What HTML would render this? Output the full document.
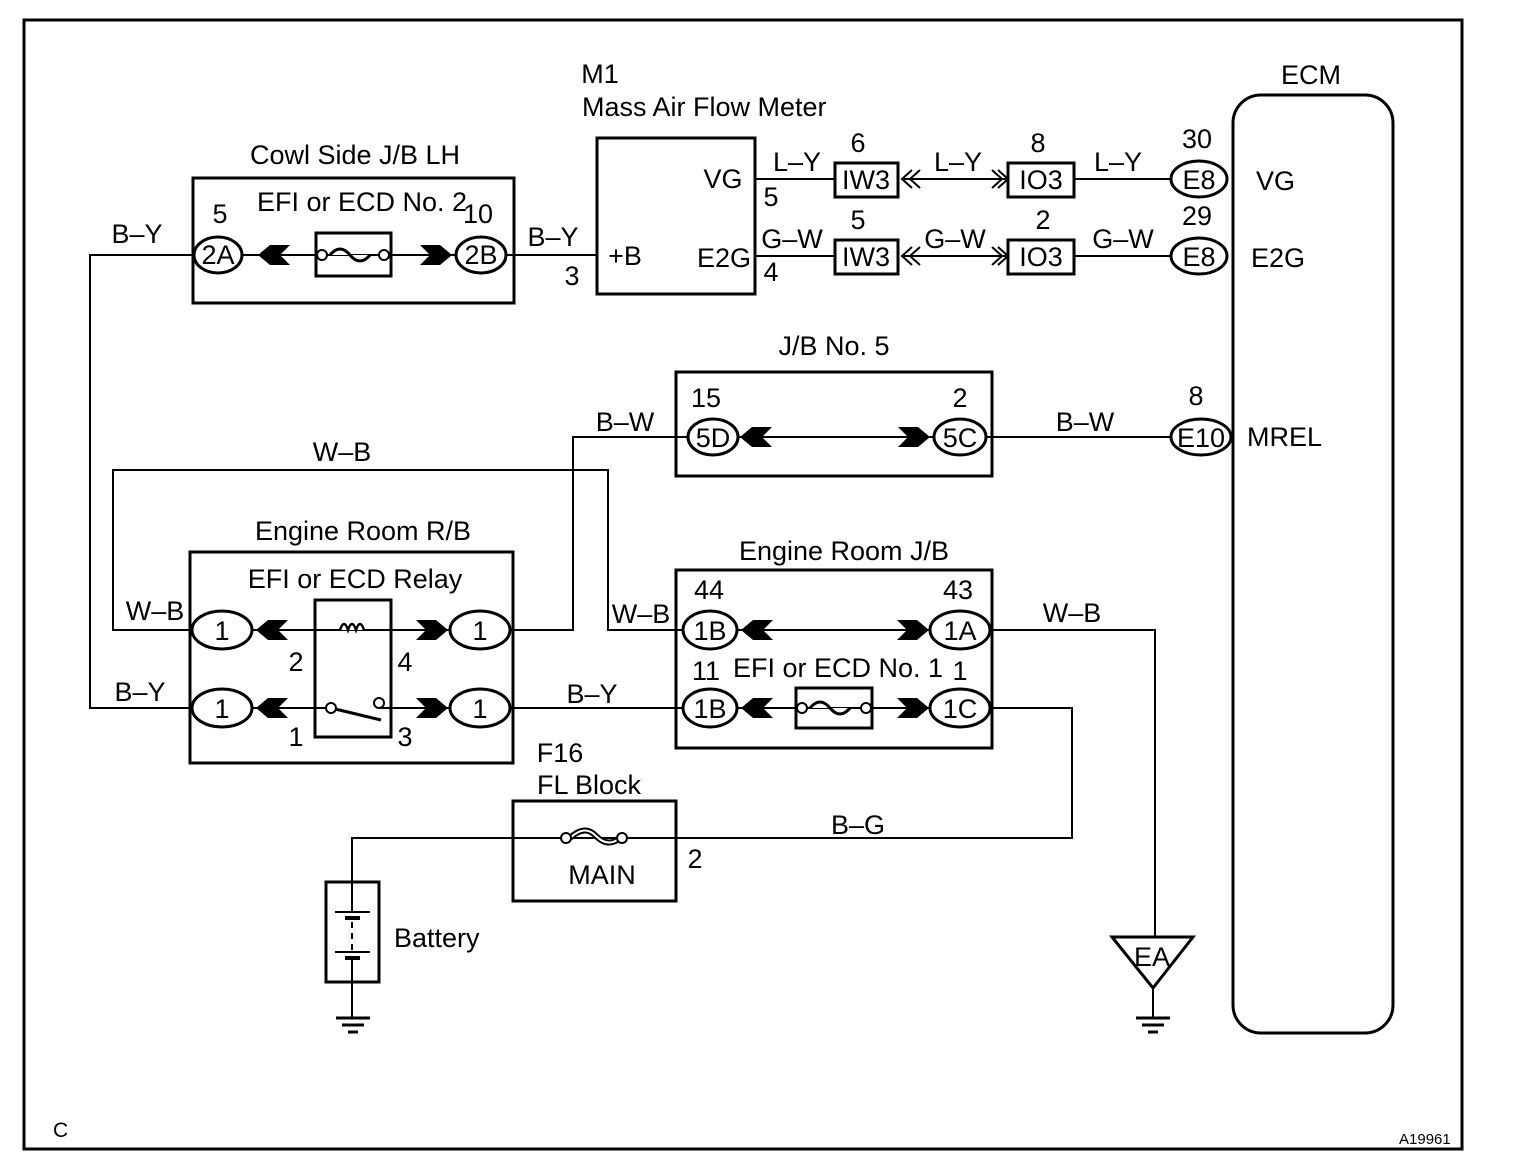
<!DOCTYPE html><html><head><style>body{margin:0;background:#fff}svg{display:block}text{font-family:"Liberation Sans",Arial,sans-serif;font-size:27px;fill:#000}</style></head><body>
<svg width="1520" height="1166" viewBox="0 0 1520 1166" xmlns="http://www.w3.org/2000/svg">
<defs>
<g id="cl"><polygon points="0,0 12,-10 32,-10 22,0 32,10 12,10"/></g>
<g id="cr"><polygon points="0,-10 20,-10 32,0 20,10 0,10 10,0"/></g>
</defs>
<rect x="24" y="20" width="1438" height="1129" fill="none" stroke="#000" stroke-width="3"/>
<g fill="#fff" stroke="#000" stroke-width="3">
<rect x="193" y="178" width="321" height="125"/>
<rect x="597" y="138" width="158" height="156"/>
<rect x="676" y="372" width="316" height="104"/>
<rect x="190" y="552" width="323" height="211"/>
<rect x="676" y="570" width="316" height="178"/>
<rect x="513" y="801" width="163" height="100"/>
<rect x="326" y="882" width="53" height="100"/>
<rect x="1233" y="95" width="160" height="938" rx="28"/>
</g>
<g fill="none" stroke="#000" stroke-width="2">
<polyline points="195,255 90,255 90,708 192,708"/>
<line x1="242" y1="255" x2="456" y2="255"/>
<line x1="506" y1="255" x2="597" y2="255"/>
<line x1="755" y1="179" x2="835" y2="179"/>
<line x1="904" y1="179" x2="1006" y2="179"/>
<line x1="1074" y1="179" x2="1171" y2="179"/>
<line x1="755" y1="256" x2="835" y2="256"/>
<line x1="904" y1="256" x2="1006" y2="256"/>
<line x1="1074" y1="256" x2="1171" y2="256"/>
<polyline points="510,630 573,630 573,437 688,437"/>
<line x1="738" y1="437" x2="935" y2="437"/>
<line x1="985" y1="437" x2="1172" y2="437"/>
<polyline points="192,630 113,630 113,470 608,470 608,630 685,630"/>
<line x1="252" y1="630" x2="450" y2="630"/>
<line x1="252" y1="708" x2="450" y2="708"/>
<line x1="510" y1="708" x2="685" y2="708"/>
<line x1="735" y1="630" x2="935" y2="630"/>
<line x1="735" y1="708" x2="935" y2="708"/>
<polyline points="988,630 1155,630 1155,937"/>
<polyline points="988,708 1072,708 1072,838 513,838"/>
<polyline points="513,838 352,838 352,882"/>
<line x1="1153" y1="988" x2="1153" y2="1018"/>
<line x1="352" y1="982" x2="352" y2="1018"/>
</g>
<g fill="#fff" stroke="#000" stroke-width="3">
<rect x="316" y="233" width="75" height="43"/>
<rect x="315" y="600" width="76" height="137"/>
<rect x="796" y="688" width="76" height="40"/>
<rect x="835" y="163" width="63" height="34"/>
<rect x="835" y="240" width="63" height="34"/>
<rect x="1008" y="163" width="66" height="34"/>
<rect x="1008" y="240" width="66" height="34"/>
<ellipse cx="218" cy="255" rx="24" ry="18"/>
<ellipse cx="481" cy="255" rx="25" ry="18"/>
<ellipse cx="1199" cy="179" rx="28" ry="18"/>
<ellipse cx="1199" cy="256" rx="28" ry="18"/>
<ellipse cx="713" cy="437" rx="25" ry="18"/>
<ellipse cx="960" cy="437" rx="26" ry="18"/>
<ellipse cx="1201" cy="437" rx="30" ry="18"/>
<ellipse cx="222" cy="630" rx="30" ry="19"/>
<ellipse cx="222" cy="708" rx="30" ry="19"/>
<ellipse cx="480" cy="630" rx="30" ry="19"/>
<ellipse cx="480" cy="708" rx="30" ry="19"/>
<ellipse cx="710" cy="630" rx="27" ry="19"/>
<ellipse cx="710" cy="708" rx="27" ry="19"/>
<ellipse cx="960" cy="630" rx="30" ry="19"/>
<ellipse cx="960" cy="708" rx="30" ry="19"/>
<polygon points="1112,937 1193,937 1153,988"/>
</g>
<g fill="none" stroke="#000" stroke-width="2">
<line x1="316" y1="255" x2="391" y2="255"/>
<line x1="315" y1="630" x2="391" y2="630"/>
<line x1="315" y1="708" x2="331" y2="708"/>
<line x1="379" y1="708" x2="391" y2="708"/>
<line x1="796" y1="708" x2="872" y2="708"/>
<path d="M330,255 q10,-12 20,0 q10,12 20,0" stroke-width="3" fill="#fff"/>
<path d="M810,708 q10,-12 20,0 q10,12 20,0" stroke-width="3" fill="#fff"/>
<path d="M340,630 q4,-12 8,0 q4,-12 8,0 q4,-12 8,0" fill="#fff" stroke-width="2.5"/>
<line x1="331" y1="708" x2="381" y2="720" stroke-width="3"/>
<path d="M570,838 q15,-14 26,-2 q12,12 24,2" stroke-width="6"/>
<path d="M570,838 q15,-14 26,-2 q12,12 24,2" stroke="#fff" stroke-width="2"/>
<path d="M912,170 L902,179 L912,188 M920,170 L910,179 L920,188"/>
<path d="M992,170 L1002,179 L992,188 M998,170 L1008,179 L998,188"/>
<path d="M912,247 L902,256 L912,265 M920,247 L910,256 L920,265"/>
<path d="M992,247 L1002,256 L992,265 M998,247 L1008,256 L998,265"/>
<line x1="335" y1="912" x2="370" y2="912"/>
<line x1="345" y1="918" x2="360" y2="918" stroke-width="4"/>
<line x1="352" y1="922" x2="352" y2="950" stroke-dasharray="6,5"/>
<line x1="335" y1="952" x2="370" y2="952"/>
<line x1="345" y1="958" x2="360" y2="958" stroke-width="4"/>
<line x1="352" y1="882" x2="352" y2="912"/>
<line x1="352" y1="958" x2="352" y2="982"/>
<line x1="336" y1="1018" x2="370" y2="1018" stroke-width="3"/>
<line x1="342" y1="1025" x2="364" y2="1025" stroke-width="3"/>
<line x1="348" y1="1032" x2="358" y2="1032" stroke-width="3"/>
<line x1="1136" y1="1018" x2="1170" y2="1018" stroke-width="3"/>
<line x1="1142" y1="1025" x2="1164" y2="1025" stroke-width="3"/>
<line x1="1148" y1="1032" x2="1158" y2="1032" stroke-width="3"/>
</g>
<g fill="#fff" stroke="#000" stroke-width="2">
<circle cx="322" cy="255" r="5"/><circle cx="384" cy="255" r="5"/>
<circle cx="802" cy="708" r="5"/><circle cx="866" cy="708" r="5"/>
<circle cx="331" cy="708" r="5"/><circle cx="379" cy="703" r="5"/>
<circle cx="566" cy="838" r="5"/><circle cx="622" cy="838" r="5"/>
</g>
<g fill="#000">
<use href="#cl" x="258" y="255"/><use href="#cr" x="420" y="255"/>
<use href="#cl" x="740" y="437"/><use href="#cr" x="898" y="437"/>
<use href="#cl" x="256" y="630"/><use href="#cr" x="416" y="630"/>
<use href="#cl" x="256" y="708"/><use href="#cr" x="416" y="708"/>
<use href="#cl" x="741" y="630"/><use href="#cr" x="897" y="630"/>
<use href="#cl" x="741" y="708"/><use href="#cr" x="897" y="708"/>
</g>
<g text-anchor="middle">
<text x="355" y="164">Cowl Side J/B LH</text>
<text x="362" y="211">EFI or ECD No. 2</text>
<text x="220" y="223">5</text><text x="478" y="223">10</text>
<text x="218" y="264">2A</text><text x="481" y="264">2B</text>
<text x="137" y="243">B–Y</text><text x="553" y="246">B–Y</text><text x="572" y="285">3</text>
<text x="600" y="83">M1</text>
<text x="723" y="188">VG</text><text x="625" y="265">+B</text><text x="724" y="267">E2G</text>
<text x="771" y="206">5</text><text x="771" y="281">4</text>
<text x="797" y="171">L–Y</text><text x="958" y="171">L–Y</text><text x="1118" y="171">L–Y</text>
<text x="792" y="248">G–W</text><text x="955" y="248">G–W</text><text x="1123" y="248">G–W</text>
<text x="866" y="189">IW3</text><text x="866" y="266">IW3</text>
<text x="1041" y="189">IO3</text><text x="1041" y="266">IO3</text>
<text x="1199" y="189">E8</text><text x="1199" y="266">E8</text>
<text x="858" y="152">6</text><text x="1038" y="152">8</text><text x="1197" y="148">30</text>
<text x="858" y="229">5</text><text x="1043" y="229">2</text><text x="1197" y="225">29</text>
<text x="1311" y="84">ECM</text>
<text x="834" y="355">J/B No. 5</text>
<text x="706" y="407">15</text><text x="960" y="407">2</text><text x="1196" y="405">8</text>
<text x="713" y="447">5D</text><text x="960" y="447">5C</text><text x="1201" y="447">E10</text>
<text x="625" y="431">B–W</text><text x="1085" y="431">B–W</text>
<text x="342" y="461">W–B</text>
<text x="363" y="540">Engine Room R/B</text>
<text x="355" y="588">EFI or ECD Relay</text>
<text x="155" y="620">W–B</text><text x="140" y="701">B–Y</text>
<text x="222" y="640">1</text><text x="222" y="718">1</text><text x="480" y="640">1</text><text x="480" y="718">1</text>
<text x="296" y="671">2</text><text x="405" y="671">4</text><text x="296" y="746">1</text><text x="405" y="746">3</text>
<text x="592" y="703">B–Y</text>
<text x="844" y="560">Engine Room J/B</text>
<text x="641" y="623">W–B</text>
<text x="709" y="599">44</text><text x="958" y="599">43</text>
<text x="706" y="680">11</text><text x="960" y="680">1</text>
<text x="838" y="677">EFI or ECD No. 1</text>
<text x="710" y="640">1B</text><text x="960" y="640">1A</text><text x="710" y="718">1B</text><text x="960" y="718">1C</text>
<text x="1072" y="622">W–B</text>
<text x="560" y="762">F16</text><text x="589" y="794">FL Block</text>
<text x="602" y="884">MAIN</text><text x="695" y="868">2</text>
<text x="858" y="834">B–G</text>
<text x="1152" y="966">EA</text>
</g>
<text x="582" y="116">Mass Air Flow Meter</text>
<text x="1256" y="190">VG</text><text x="1251" y="267">E2G</text><text x="1247" y="446">MREL</text>
<text x="394" y="947">Battery</text>
<text x="53" y="1137" style="font-size:21px">C</text>
<text x="1399" y="1144" style="font-size:15px">A19961</text>
</svg>
</body></html>
